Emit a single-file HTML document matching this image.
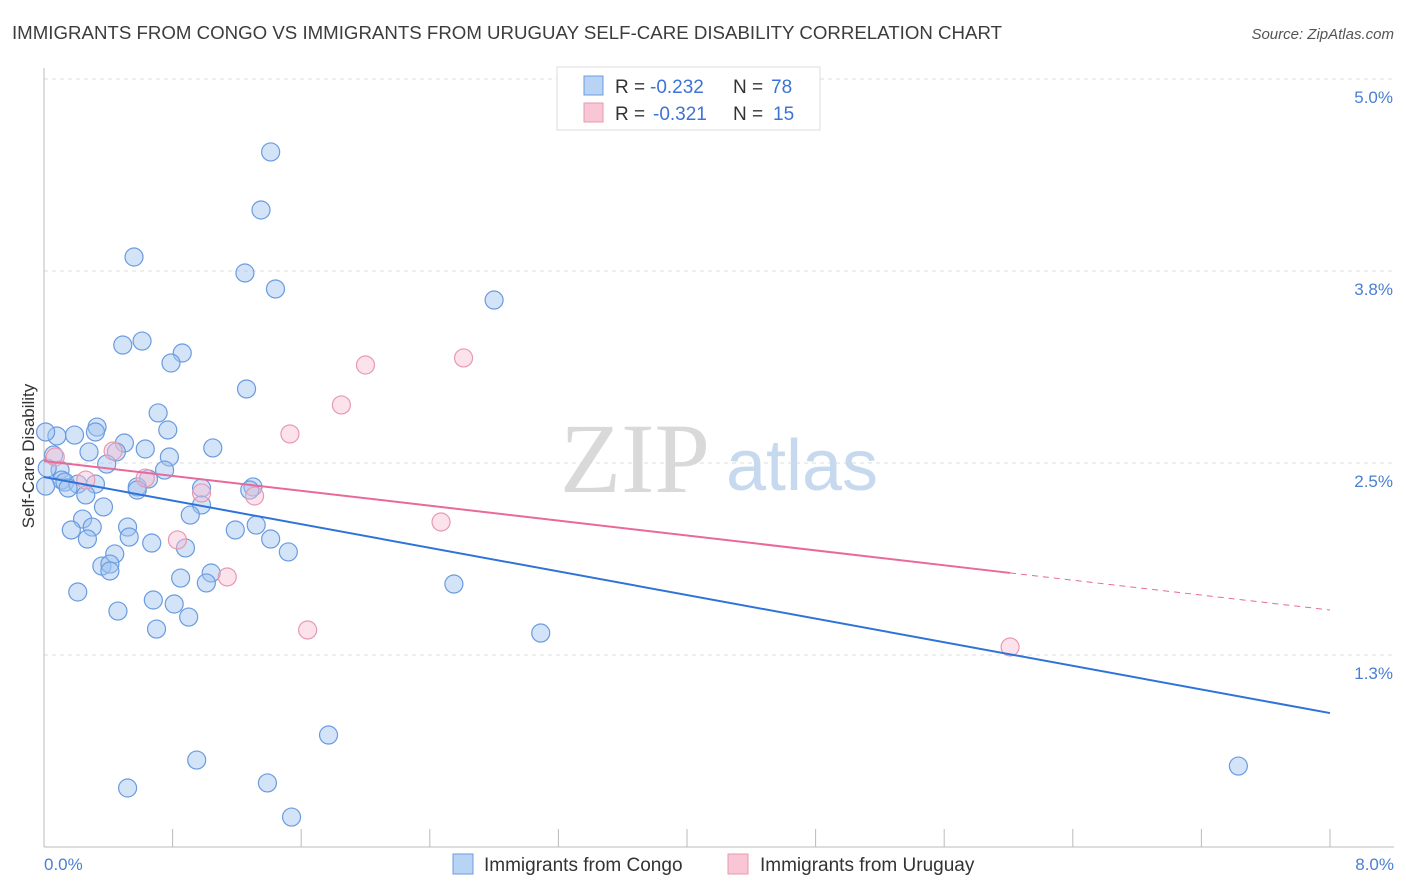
<!DOCTYPE html>
<html><head><meta charset="utf-8"><style>
body{margin:0;background:#fff;font-family:"Liberation Sans",sans-serif;}
svg{display:block}
</style></head><body>
<svg id="chart" width="1406" height="892">
<text x="12" y="39" font-size="18" fill="#3c3c3c" textLength="990" lengthAdjust="spacingAndGlyphs">IMMIGRANTS FROM CONGO VS IMMIGRANTS FROM URUGUAY SELF-CARE DISABILITY CORRELATION CHART</text>
<text x="1394" y="39" font-size="15" fill="#555" font-style="italic" text-anchor="end">Source: ZipAtlas.com</text>
<g id="grid"></g>
<text x="635" y="492" font-size="100" fill="#d9d9d9" font-family="Liberation Serif,serif" text-anchor="middle">ZIP</text>
<text x="802" y="490" font-size="72" fill="#c7d9ef" text-anchor="middle">atlas</text>
<line x1="44" y1="68" x2="44" y2="847" stroke="#bbb"/>
<line x1="44" y1="847" x2="1394" y2="847" stroke="#bbb"/>
<g id="xticks"></g>
<g id="ylabels"></g>
<text x="44" y="870" font-size="17" fill="#4a7fd4">0.0%</text>
<text x="1394" y="870" font-size="17" fill="#4a7fd4" text-anchor="end">8.0%</text>
<text transform="translate(34,456) rotate(-90)" font-size="17" fill="#333" text-anchor="middle">Self-Care Disability</text>
<g id="pts"></g>
<g id="lines"></g>
<g>
<rect x="557" y="67" width="263" height="63" fill="#fff" stroke="#ddd"/>
<rect x="584" y="76" width="19" height="19" fill="#b9d3f5" stroke="#6a9be0"/>
<rect x="584" y="103" width="19" height="19" fill="#f8c6d5" stroke="#e899b2"/>
<text x="615" y="93" font-size="19" fill="#333">R =</text>
<text x="650" y="93" font-size="19" fill="#3d73d6">-0.232</text>
<text x="733" y="93" font-size="19" fill="#333">N =</text>
<text x="771" y="93" font-size="19" fill="#3d73d6">78</text>
<text x="615" y="120" font-size="19" fill="#333">R =</text>
<text x="653" y="120" font-size="19" fill="#3d73d6">-0.321</text>
<text x="733" y="120" font-size="19" fill="#333">N =</text>
<text x="773" y="120" font-size="19" fill="#3d73d6">15</text>
</g>
<g>
<rect x="453" y="854" width="20" height="20" fill="#b9d3f5" stroke="#6a9be0"/>
<text x="484" y="871" font-size="19" fill="#333">Immigrants from Congo</text>
<rect x="728" y="854" width="20" height="20" fill="#f8c6d5" stroke="#e899b2"/>
<text x="760" y="871" font-size="19" fill="#333">Immigrants from Uruguay</text>
</g>
</svg>
<script>
const yTicks=[5.0,3.75,2.5,1.25];
const yTickLabels=["5.0%","3.8%","2.5%","1.3%"];
const xTicks=[0.8,1.6,2.4,3.2,4.0,4.8,5.6,6.4,7.2,8.0];
const congoX=[1.41,1.35,0.56,1.25,1.44,2.80,0.49,0.61,0.86,0.79,1.26,0.71,0.33,0.77,0.08,0.19,0.32,0.50,1.05,0.63,0.28,0.45,0.78,0.39,0.75,0.10,0.02,0.11,0.13,0.65,0.21,0.32,0.15,0.58,0.58,0.98,0.26,1.30,1.28,0.98,0.37,0.91,0.24,0.30,0.17,1.19,0.52,1.32,0.27,0.53,0.67,1.41,0.88,0.44,1.52,0.36,0.41,0.41,1.04,0.85,1.01,2.55,0.21,0.68,0.81,0.46,0.90,0.70,3.09,1.77,0.95,7.43,0.52,1.39,1.54,0.01,0.01,0.06];
const congoY=[4.525,4.147,3.841,3.737,3.633,3.561,3.268,3.294,3.216,3.151,2.982,2.826,2.734,2.715,2.676,2.682,2.702,2.630,2.598,2.591,2.572,2.572,2.539,2.493,2.454,2.454,2.467,2.389,2.376,2.396,2.363,2.363,2.337,2.344,2.324,2.337,2.292,2.344,2.324,2.227,2.214,2.161,2.135,2.083,2.064,2.064,2.083,2.096,2.005,2.018,1.979,2.005,1.947,1.908,1.921,1.829,1.842,1.797,1.784,1.751,1.719,1.712,1.660,1.608,1.582,1.536,1.497,1.419,1.393,0.729,0.566,0.527,0.384,0.417,0.195,2.702,2.350,2.552];
const uruX=[2.61,2.00,1.85,1.53,0.43,0.07,0.63,0.26,0.98,1.31,2.47,0.83,1.14,1.64,6.01];
const uruY=[3.184,3.138,2.878,2.689,2.578,2.539,2.402,2.389,2.305,2.285,2.116,1.999,1.758,1.413,1.302];
const congoTrend=[2.409,0.872];
const uruTrend=[2.513,1.543]; const uruSolidEnd=6.01;
const NS="http://www.w3.org/2000/svg";
const sx=v=>44+v/8*1286, sy=v=>847-v/1.25*192;
function mk(tag,attrs,parent){const e=document.createElementNS(NS,tag);for(const k in attrs)e.setAttribute(k,attrs[k]);document.getElementById(parent).appendChild(e);return e;}
yTicks.forEach((t,i)=>{
 const l=mk('line',{x1:44,x2:1394,y1:sy(t),y2:sy(t),stroke:'#ddd','stroke-dasharray':'4,4'},'grid');
 
 
 const tx=mk('text',{x:1393,y:sy(t)+24,'font-size':17,fill:'#4a7fd4','text-anchor':'end'},'ylabels');
 tx.textContent=yTickLabels[i];
 
 
});
xTicks.forEach(t=>{
 const l=mk('line',{x1:sx(t),x2:sx(t),y1:829,y2:847,stroke:'#bbb'},'xticks');
 
 
});
congoX.forEach((x,i)=>{
 const c=mk('circle',{cx:sx(x),cy:sy(congoY[i]),r:9,fill:'rgba(160,195,240,0.45)',stroke:'#6a9be0','stroke-width':1.2},'pts');
 
 
});
uruX.forEach((x,i)=>{
 const c=mk('circle',{cx:sx(x),cy:sy(uruY[i]),r:9,fill:'rgba(248,190,210,0.45)',stroke:'#e899b2','stroke-width':1.2},'pts');
 
 
});
const bl=mk('line',{x1:sx(0),y1:sy(congoTrend[0]),x2:sx(8),y2:sy(congoTrend[1]),stroke:'#2f73d8','stroke-width':2},'lines');


const ue=uruTrend[0]+(uruTrend[1]-uruTrend[0])*uruSolidEnd/8;
const pl=mk('line',{x1:sx(0),y1:sy(uruTrend[0]),x2:sx(uruSolidEnd),y2:sy(ue),stroke:'#e8699a','stroke-width':2},'lines');


const pd=mk('line',{x1:sx(uruSolidEnd),y1:sy(ue),x2:sx(8),y2:sy(uruTrend[1]),stroke:'#e8699a','stroke-width':1,'stroke-dasharray':'6,5'},'lines');


</script>
</body></html>
